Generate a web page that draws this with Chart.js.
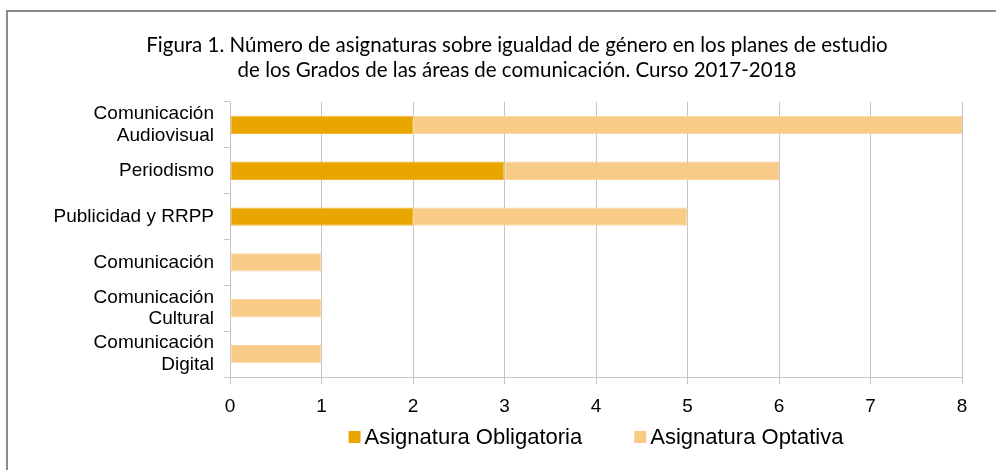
<!DOCTYPE html>
<html><head><meta charset="utf-8">
<script src="https://cdn.jsdelivr.net/npm/chart.js@4"></script>
<style>
html,body{margin:0;padding:0;background:#fff;}
#wrap{position:relative;width:996px;height:470px;}
#frame{position:absolute;left:6px;top:10px;right:-10px;bottom:-10px;border-top:2px solid #8c8c8c;border-left:2px solid #8c8c8c;pointer-events:none;}
canvas{position:absolute;left:0;top:0;}
</style></head>
<body>
<div id="wrap"><canvas id="c" width="996" height="470"></canvas><div id="frame"></div></div>
<script>
const categories = [["Comunicación","Audiovisual"],"Periodismo","Publicidad y RRPP","Comunicación",["Comunicación","Cultural"],["Comunicación","Digital"]];
const obligatoria = [2,3,2,0,0,0];
const optativa = [6,3,3,1,1,1];
const seriesNames = ["Asignatura Obligatoria","Asignatura Optativa"];
const titleLines = ["Figura 1. Número de asignaturas sobre igualdad de género en los planes de estudio","de los Grados de las áreas de comunicación. Curso 2017-2018"];

const gridColor = '#c4c4c4';
const labelFont = 'Liberation Sans, Arial, sans-serif';

const titleAndLegend = {
  id: 'titleAndLegend',
  afterDraw(chart) {
    const ctx = chart.ctx;
    ctx.save();
    // title
    ctx.fillStyle = '#000';
    ctx.font = '20.5px Lato, sans-serif';
    ctx.textAlign = 'center';
    ctx.textBaseline = 'middle';
    titleLines.forEach((t, i) => ctx.fillText(t, 517, 45 + i * 25));
    // legend
    ctx.font = '22px ' + labelFont;
    ctx.textAlign = 'left';
    const items = chart.data.datasets.map(d => ({text: d.label, color: d.backgroundColor, w: ctx.measureText(d.label).width}));
    const box = 12, gapText = 4, gapItem = 52;
    let total = items.reduce((s, it) => s + box + gapText + it.w, 0) + gapItem * (items.length - 1);
    const ca = chart.chartArea;
    let x = (ca.left + ca.right) / 2 - total / 2;
    const cy = 437;
    items.forEach(it => {
      ctx.fillStyle = it.color;
      ctx.fillRect(x, cy - 6, box, box);
      ctx.fillStyle = '#000';
      ctx.fillText(it.text, x + box + gapText, cy + 1);
      x += box + gapText + it.w + gapItem;
    });
    ctx.restore();
  }
};

new Chart(document.getElementById('c'), {
  type: 'bar',
  data: {
    labels: categories,
    datasets: [
      {label: seriesNames[0], data: obligatoria, backgroundColor: '#eaa600', borderColor: '#efb53a', borderWidth: 1, borderSkipped: false, categoryPercentage: 1, barPercentage: 0.4},
      {label: seriesNames[1], data: optativa, backgroundColor: '#f8cb87', borderColor: '#fad7a2', borderWidth: 1, borderSkipped: false, categoryPercentage: 1, barPercentage: 0.4}
    ]
  },
  options: {
    indexAxis: 'y',
    responsive: false,
    animation: false,
    layout: {padding: {left: 0, right: 34, top: 102, bottom: 54}},
    scales: {
      x: {
        stacked: true, min: 0, max: 8,
        ticks: {stepSize: 1, color: '#000', font: {family: labelFont, size: 19}, padding: 11},
        grid: {color: gridColor, lineWidth: 1, tickLength: 7, drawOnChartArea: true},
        border: {display: true, color: gridColor},
        afterFit: s => { s.height = 39; }
      },
      y: {
        stacked: true,
        ticks: {color: '#000', font: {family: labelFont, size: 19, lineHeight: 1.15}, padding: 10, autoSkip: false},
        grid: {color: gridColor, offset: true, drawOnChartArea: false, tickLength: 6},
        border: {display: true, color: gridColor},
        afterFit: s => { s.width = 230; }
      }
    },
    plugins: {
      title: {display: false},
      legend: {display: false},
      tooltip: {enabled: false}
    }
  },
  plugins: [titleAndLegend]
});
</script>
</body></html>
